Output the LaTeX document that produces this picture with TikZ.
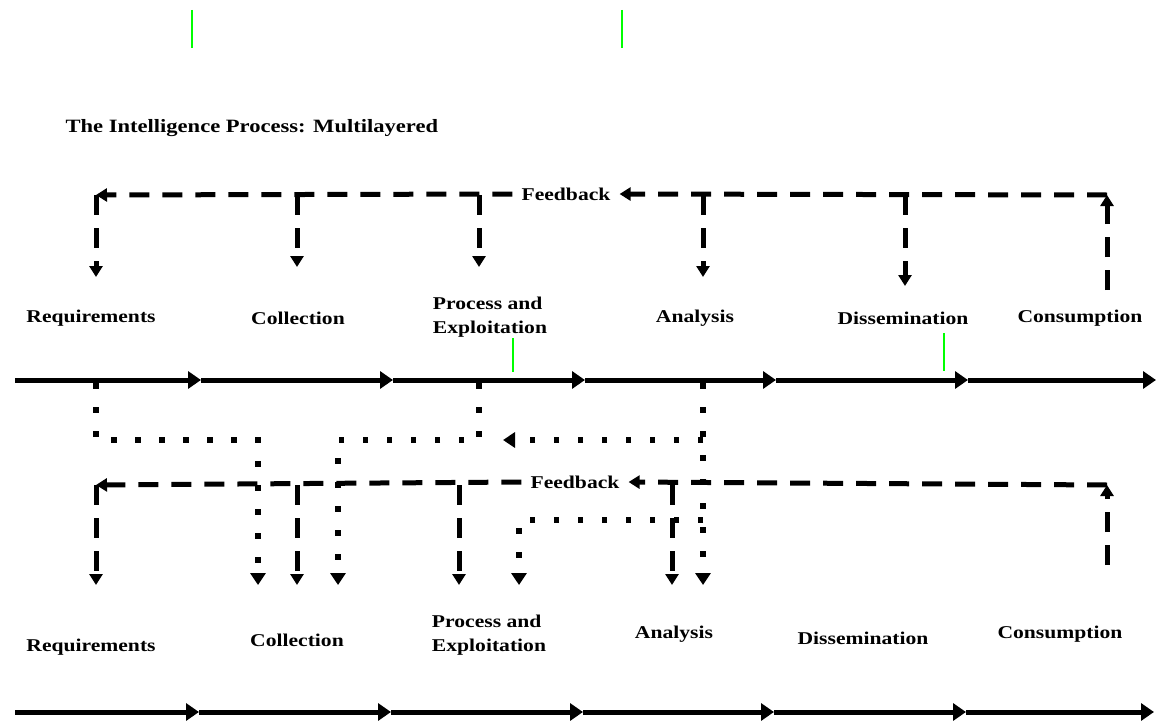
\documentclass[tikz,border=0pt]{standalone}
\usepackage{fontspec}
\newfontfamily\figfont{Liberation Serif}[FakeStretch=1.2]
\usetikzlibrary{arrows.meta}

\begin{document}
\begin{tikzpicture}[x=1pt,y=-1pt,
  lbl/.style={font={\figfont\bfseries\fontsize{18}{24}\selectfont},inner sep=2pt},
  fbtext/.style={lbl,inner xsep=9pt},
  flow/.style={line width=5pt,-{Triangle[length=13pt,width=17pt]}},
  fb/.style={line width=5pt,dash pattern=on 20pt off 13pt,-{Triangle[length=11pt,width=13pt]}},
  dot/.style={line width=5.5pt,dash pattern=on 5.5pt off 18.5pt,-{Triangle[length=12pt,width=15pt]}},
  glitch/.style={draw=green,line width=2pt}]
  \useasboundingbox (0,0) rectangle (1156,725);

  % title
  \node[font={\figfont\bfseries\fontsize{18.8}{22}\selectfont},anchor=west] (title) at (62,128) {The Intelligence Process: Multilayered};

  % upper layer
  \node[lbl] (req1) at (91,318) {Requirements};
  \node[lbl] (col1) at (298,318) {Collection};
  \node[lbl,align=left] (pro1) at (490,317) {Process and\\Exploitation};
  \node[lbl] (ana1) at (695,318) {Analysis};
  \node[lbl] (dis1) at (903,318) {Dissemination};
  \node[lbl] (con1) at (1080,318) {Consumption};
  \node[fbtext] (fb1) at (566,194) {Feedback};

  \foreach \x [count=\i] in {15,201,393,585,776,968,1156}
    \coordinate (a\i) at (\x,380);
  \foreach \i [evaluate=\i as \j using int(\i+1)] in {1,...,6}
    \draw[flow] (a\i) -- (a\j);

  \coordinate (t0) at (96,195);
  \coordinate (t5) at (1107,195);
  \draw[fb] (fb1.west) -- (t0);
  \draw[fb] (t0) -- (96,277);
  \draw[fb] (297,195) -- (297,267);
  \draw[fb] (479,195) -- (479,267);
  \draw[fb] (703,195) -- (703,277);
  \draw[fb] (905,195) -- (905,286);
  \draw[fb] (1107,290) -- (t5);
  \draw[fb] (t5) -- (fb1.east);

  % dotted links between layers
  \coordinate (m1) at (96,383);
  \coordinate (m2) at (479,383);
  \coordinate (m3) at (703,383);
  \draw[dot] (m1) -- (96,440) -- (258,440) -- (258,585);
  \draw[dot] (m2) -- (479,440) -- (338,440) -- (338,585);
  \draw[dot] (m3) -- (703,585);
  \draw[dot] (703,440) -- (503,440);
  \draw[dot] (703,520) -- (519,520) -- (519,585);

  % lower layer
  \node[fbtext] (fb2) at (575,482) {Feedback};
  \coordinate (u0) at (96,485);
  \coordinate (u5) at (1107,485);
  \draw[fb] (fb2.west) -- (u0);
  \draw[fb] (u0) -- (96,585);
  \draw[fb] (297,485) -- (297,585);
  \draw[fb] (459,485) -- (459,585);
  \draw[fb] (672,485) -- (672,585);
  \draw[fb] (1107,565) -- (u5);
  \draw[fb] (u5) -- (fb2.east);

  \node[lbl] (req2) at (91,647) {Requirements};
  \node[lbl] (col2) at (297,640) {Collection};
  \node[lbl,align=left] (pro2) at (489,635) {Process and\\Exploitation};
  \node[lbl] (ana2) at (674,634) {Analysis};
  \node[lbl] (dis2) at (863,638) {Dissemination};
  \node[lbl] (con2) at (1060,634) {Consumption};

  \foreach \x [count=\i] in {15,199,391,583,774,966,1154}
    \coordinate (b\i) at (\x,712);
  \foreach \i [evaluate=\i as \j using int(\i+1)] in {1,...,6}
    \draw[flow] (b\i) -- (b\j);

  % stray marks
  \draw[glitch] (192,10) -- (192,48);
  \draw[glitch] (622,10) -- (622,48);
  \draw[glitch] (513,338) -- (513,372);
  \draw[glitch] (944,333) -- (944,371);
\end{tikzpicture}
\end{document}
